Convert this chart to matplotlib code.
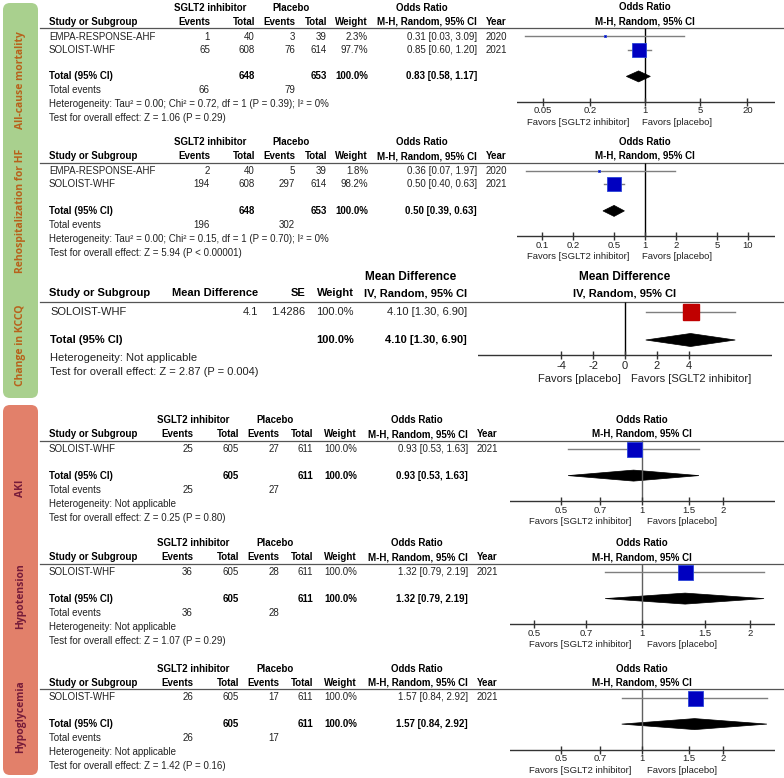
import matplotlib
matplotlib.use("Agg")
import matplotlib.pyplot as plt
from matplotlib.patches import FancyBboxPatch, Polygon

plt.rcParams['font.family'] = ['Liberation Sans', 'DejaVu Sans']

# ---- odds ratio panels (mortality, rehospitalization, AKI, hypotension, hypoglycemia)
or_outcomes = ["All-cause mortality", "Rehospitalization for HF", "AKI", "Hypotension", "Hypoglycemia"]
or_studies = [["EMPA-RESPONSE-AHF", "SOLOIST-WHF"], ["EMPA-RESPONSE-AHF", "SOLOIST-WHF"],
              ["SOLOIST-WHF"], ["SOLOIST-WHF"], ["SOLOIST-WHF"]]
or_years = [[2020, 2021], [2020, 2021], [2021], [2021], [2021]]
or_ev_sglt2 = [[1, 65], [2, 194], [25], [36], [26]]
or_n_sglt2 = [[40, 608], [40, 608], [605], [605], [605]]
or_ev_pbo = [[3, 76], [5, 297], [27], [28], [17]]
or_n_pbo = [[39, 614], [39, 614], [611], [611], [611]]
or_weight = [[2.3, 97.7], [1.8, 98.2], [100.0], [100.0], [100.0]]
or_est = [[0.31, 0.85], [0.36, 0.50], [0.93], [1.32], [1.57]]
or_lo = [[0.03, 0.60], [0.07, 0.40], [0.53], [0.79], [0.84]]
or_hi = [[3.09, 1.20], [1.97, 0.63], [1.63], [2.19], [2.92]]
or_pooled = [0.83, 0.50, 0.93, 1.32, 1.57]
or_pooled_lo = [0.58, 0.39, 0.53, 0.79, 0.84]
or_pooled_hi = [1.17, 0.63, 1.63, 2.19, 2.92]
or_het = ["Tau\u00b2 = 0.00; Chi\u00b2 = 0.72, df = 1 (P = 0.39); I\u00b2 = 0%",
          "Tau\u00b2 = 0.00; Chi\u00b2 = 0.15, df = 1 (P = 0.70); I\u00b2 = 0%",
          "Not applicable", "Not applicable", "Not applicable"]
or_z = ["Z = 1.06 (P = 0.29)", "Z = 5.94 (P < 0.00001)", "Z = 0.25 (P = 0.80)",
        "Z = 1.07 (P = 0.29)", "Z = 1.42 (P = 0.16)"]
or_ticks = [[0.05, 0.2, 1, 5, 20], [0.1, 0.2, 0.5, 1, 2, 5, 10],
            [0.5, 0.7, 1, 1.5, 2], [0.5, 0.7, 1, 1.5, 2], [0.5, 0.7, 1, 1.5, 2]]

# ---- mean difference panel (KCCQ)
md_outcome = "Change in KCCQ"
md_studies = ["SOLOIST-WHF"]
md_values = [4.1]
md_se = [1.4286]
md_weight = [100.0]
md_lo = [1.30]
md_hi = [6.90]
md_pooled = (4.10, 1.30, 6.90)
md_het = "Not applicable"
md_z = "Z = 2.87 (P = 0.004)"
md_ticks = [-4, -2, 0, 2, 4]

# ---- layout (pixels)
W, H = 784, 778
wide = dict(ev1=210, n1=255, ev2=295, n2=327, w=368, ci=477, yr=486, g1=210, g2=291, orh=422,
            fav_r=629, fav_l=642, fx0=517, fx1=775, null_col='black')
narrow = dict(ev1=193, n1=239, ev2=279, n2=313, w=357, ci=468, yr=477, g1=193, g2=275, orh=417,
              fav_r=631, fav_l=647, fx0=510, fx1=775, null_col='#606060')
or_layout = [wide, wide, narrow, narrow, narrow]
or_line_y = [28, 162.5, 440.5, 563.5, 689.0]
or_xlim = [(0.0236, 45), (0.057, 18.3), (0.322, 3.13), (0.429, 2.35), (0.322, 3.13)]
label_y = [80, 211, 488, 596, 717]
md_label_y = 345

green, green_txt = '#a9d08e', '#b8621b'
red, red_txt = '#e2806a', '#761c3a'
txt = '#222222'
fs = 7.0

fig = plt.figure(figsize=(W / 100, H / 100), dpi=100)
bg = fig.add_axes([0, 0, 1, 1])
bg.set_xlim(0, W)
bg.set_ylim(H, 0)
bg.axis('off')


def px_axes(x0, y0, x1, y1):
    ax = fig.add_axes([x0 / W, 1 - y1 / H, (x1 - x0) / W, (y1 - y0) / H])
    ax.set_ylim(y1, y0)
    ax.axis('off')
    return ax


# side boxes
bg.add_patch(FancyBboxPatch((3, 3), 35, 395, boxstyle='round,pad=0,rounding_size=7',
                            fc=green, ec='none'))
bg.add_patch(FancyBboxPatch((3, 405), 35, 370, boxstyle='round,pad=0,rounding_size=7',
                            fc=red, ec='none'))
side = [(or_outcomes[0], label_y[0], green_txt), (or_outcomes[1], label_y[1], green_txt),
        (md_outcome, md_label_y, green_txt), (or_outcomes[2], label_y[2], red_txt),
        (or_outcomes[3], label_y[3], red_txt), (or_outcomes[4], label_y[4], red_txt)]
for name, yc, col in side:
    bg.text(21, yc, name, rotation=90, ha='center', va='center', fontsize=7.5,
            fontweight='bold', family=['Open Sans', 'DejaVu Sans'], color=col)


def t(x, y, s, ha='right', bold=False, size=fs, ax=bg):
    ax.text(x, y, s, ha=ha, va='center', fontsize=size, color='black' if bold else txt,
            fontweight='bold' if bold else 'normal', clip_on=False)


# odds ratio panels
for k in range(5):
    c = or_layout[k]
    ly = or_line_y[k]
    n = len(or_studies[k])
    rows = [ly + 8.5 + 13.3 * i for i in range(n)]
    ytot = ly + 8.5 + 13.3 * (n + 1)
    yax = ytot + 25.5

    # headers
    t(c['g1'], ly - 20.5, "SGLT2 inhibitor", ha='center', bold=True)
    t(c['g2'], ly - 20.5, "Placebo", ha='center', bold=True)
    t(c['orh'], ly - 20.5, "Odds Ratio", ha='center', bold=True)
    t(49, ly - 6.5, "Study or Subgroup", ha='left', bold=True)
    for key, lab in [('ev1', 'Events'), ('n1', 'Total'), ('ev2', 'Events'), ('n2', 'Total'),
                     ('w', 'Weight'), ('ci', 'M-H, Random, 95% CI')]:
        t(c[key], ly - 6.5, lab, bold=True)
    t(c['yr'], ly - 6.5, "Year", ha='left', bold=True)
    bg.plot([40, W], [ly, ly], color='#555555', lw=0.9)

    # study rows
    for i in range(n):
        y = rows[i]
        t(49, y, or_studies[k][i], ha='left')
        t(c['ev1'], y, str(or_ev_sglt2[k][i]))
        t(c['n1'], y, str(or_n_sglt2[k][i]))
        t(c['ev2'], y, str(or_ev_pbo[k][i]))
        t(c['n2'], y, str(or_n_pbo[k][i]))
        t(c['w'], y, f"{or_weight[k][i]:.1f}%")
        t(c['ci'], y, f"{or_est[k][i]:.2f} [{or_lo[k][i]:.2f}, {or_hi[k][i]:.2f}]")
        t(c['yr'], y, str(or_years[k][i]), ha='left')

    t(49, ytot, "Total (95% CI)", ha='left', bold=True)
    t(c['n1'], ytot, str(sum(or_n_sglt2[k])), bold=True)
    t(c['n2'], ytot, str(sum(or_n_pbo[k])), bold=True)
    t(c['w'], ytot, f"{sum(or_weight[k]):.1f}%", bold=True)
    t(c['ci'], ytot, f"{or_pooled[k]:.2f} [{or_pooled_lo[k]:.2f}, {or_pooled_hi[k]:.2f}]", bold=True)
    t(49, ytot + 14, "Total events", ha='left')
    t(c['ev1'], ytot + 14, str(sum(or_ev_sglt2[k])))
    t(c['ev2'], ytot + 14, str(sum(or_ev_pbo[k])))
    t(49, ytot + 28, "Heterogeneity: " + or_het[k], ha='left')
    t(49, ytot + 42, "Test for overall effect: " + or_z[k], ha='left')

    # forest
    ax = px_axes(c['fx0'], ly, c['fx1'], ly + 100)
    ax.set_xscale('log')
    ax.set_xlim(*or_xlim[k])
    t(1, ly - 20.5, "Odds Ratio", ha='center', bold=True, ax=ax)
    t(1, ly - 6.5, "M-H, Random, 95% CI", ha='center', bold=True, ax=ax)
    ax.vlines(1, ly, yax, color=c['null_col'], lw=1)
    for i in range(n):
        y = rows[i]
        ax.plot([or_lo[k][i], or_hi[k][i]], [y, y], color='#7f7f7f', lw=1)
        size = max(15 * (or_weight[k][i] / 100) ** 0.5, 1.5)
        ax.plot(or_est[k][i], y, marker='s', ms=size * 0.72, mfc='#0000c0', mec='#2a44d8', mew=0.6)
    ax.add_patch(Polygon([(or_pooled_lo[k], ytot), (or_pooled[k], ytot - 5.5),
                          (or_pooled_hi[k], ytot), (or_pooled[k], ytot + 5.5)],
                         closed=True, fc='black', ec='black', lw=0.5))
    ax.axhline(yax, color='#333333', lw=1)
    ax.vlines(or_ticks[k], yax - 4, yax + 4, color='#333333', lw=1)
    for tk in or_ticks[k]:
        t(tk, yax + 9, f"{tk:g}", ha='center', size=6.8, ax=ax)
    t(c['fav_r'], yax + 20.5, "Favors [SGLT2 inhibitor]", size=6.8)
    t(c['fav_l'], yax + 20.5, "Favors [placebo]", ha='left', size=6.8)

# mean difference panel
fk = 8.0
ly = 301.5
t(411, 277, "Mean Difference", ha='center', bold=True, size=8.5)
t(49, 293, "Study or Subgroup", ha='left', bold=True, size=fk)
for x, lab in [(258, 'Mean Difference'), (305, 'SE'), (354, 'Weight'), (467, 'IV, Random, 95% CI')]:
    t(x, 293, lab, bold=True, size=fk)
bg.plot([40, W], [ly, ly], color='#555555', lw=0.9)
row_y = [311.5 + 13.5 * i for i in range(len(md_studies))]
for i, y in enumerate(row_y):
    t(50, y, md_studies[i], ha='left', size=fk)
    t(258, y, f"{md_values[i]:g}", size=fk)
    t(305, y, f"{md_se[i]:g}", size=fk)
    t(354, y, f"{md_weight[i]:.1f}%", size=fk)
    t(467, y, f"{md_values[i]:.2f} [{md_lo[i]:.2f}, {md_hi[i]:.2f}]", size=fk)
ytot = 340
t(50, ytot, "Total (95% CI)", ha='left', bold=True, size=fk)
t(354, ytot, f"{sum(md_weight):.1f}%", bold=True, size=fk)
t(467, ytot, f"{md_pooled[0]:.2f} [{md_pooled[1]:.2f}, {md_pooled[2]:.2f}]", bold=True, size=fk)
t(50, 357.5, "Heterogeneity: " + md_het, ha='left', size=fk)
t(50, 371.5, "Test for overall effect: " + md_z, ha='left', size=fk)

yax = 355
ax = px_axes(478, ly, 772, ly + 90)
ax.set_xlim(-9.2, 9.2)
t(0, 277, "Mean Difference", ha='center', bold=True, size=8.5, ax=ax)
t(0, 293, "IV, Random, 95% CI", ha='center', bold=True, size=fk, ax=ax)
ax.vlines(0, ly, yax, color='black', lw=1)
for i, y in enumerate(row_y):
    ax.plot([md_lo[i], md_hi[i]], [y, y], color='#7f7f7f', lw=1)
    ax.plot(md_values[i], y, marker='s', ms=16.5 * (md_weight[i] / 100) ** 0.5 * 0.72,
            mfc='#c00000', mec='#c00000')
ax.add_patch(Polygon([(md_pooled[1], ytot), (md_pooled[0], ytot - 6.5),
                      (md_pooled[2], ytot), (md_pooled[0], ytot + 6.5)],
                     closed=True, fc='black', ec='black', lw=0.5))
ax.axhline(yax, color='#333333', lw=1)
ax.vlines(md_ticks, yax - 4, yax + 4, color='#333333', lw=1)
for tk in md_ticks:
    t(tk, 366, f"{tk:g}", ha='center', size=fk, ax=ax)
t(621, 379, "Favors [placebo]", size=fk)
t(631, 379, "Favors [SGLT2 inhibitor]", ha='left', size=fk)

fig.savefig('out.png', dpi=100)
